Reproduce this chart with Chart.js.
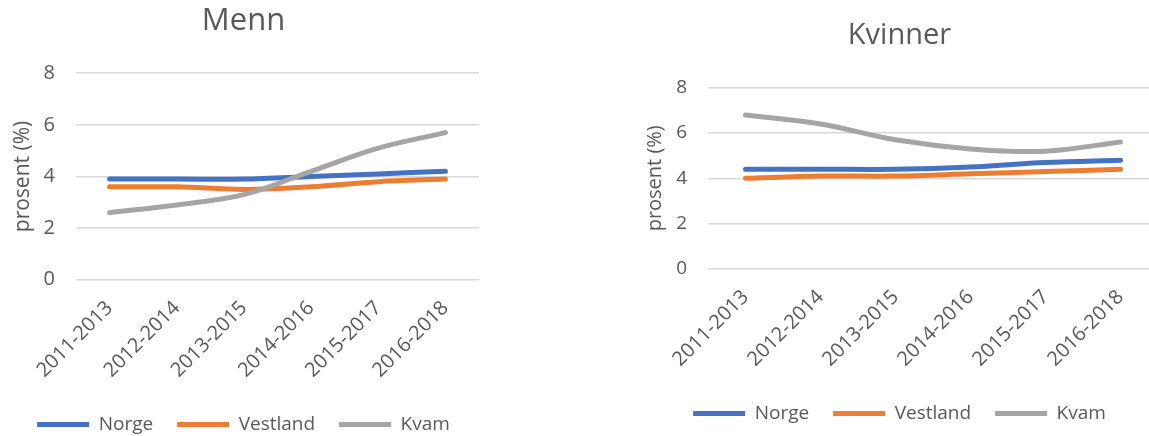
<!DOCTYPE html>
<html>
<head>
<meta charset="utf-8">
<script src="https://cdn.jsdelivr.net/npm/chart.js@4/dist/chart.umd.min.js"></script>
<style>
  html, body { margin: 0; padding: 0; background: #fff; overflow: hidden; width: 1149px; height: 436px; }
  .box { position: absolute; top: 0; height: 436px; }
  #b1 { left: 0; width: 486px; }
  #b2 { left: 633px; width: 528px; }
</style>
</head>
<body>
<div class="box" id="b1"><canvas id="c1"></canvas></div>
<div class="box" id="b2"><canvas id="c2"></canvas></div>
<script>
const categories = ['2011-2013', '2012-2014', '2013-2015', '2014-2016', '2015-2017', '2016-2018'];
const seriesNames = ['Norge', 'Vestland', 'Kvam'];
const mennNorge    = [3.9, 3.9, 3.9, 4.0, 4.1, 4.2];
const mennVestland = [3.6, 3.6, 3.5, 3.6, 3.8, 3.9];
const mennKvam     = [2.6, 2.9, 3.3, 4.2, 5.1, 5.7];
const kvinnerNorge    = [4.4, 4.4, 4.4, 4.5, 4.7, 4.8];
const kvinnerVestland = [4.0, 4.1, 4.1, 4.2, 4.3, 4.4];
const kvinnerKvam     = [6.8, 6.4, 5.7, 5.3, 5.2, 5.6];
const yTicks = [0, 2, 4, 6, 8];
const yTitle = 'prosent (%)';

const colors = ['#4472C4', '#ED7D31', '#A5A5A5'];
const textColor = '#595959';
const FONT = "'Open Sans', sans-serif";

function makeChart(id, title, values, s) {
  const datasets = values.map((v, i) => ({
    label: seriesNames[i],
    data: v,
    borderColor: colors[i],
    backgroundColor: colors[i],
    borderWidth: 5,
    borderCapStyle: 'round',
    borderJoinStyle: 'round',
    pointRadius: 0,
    pointHoverRadius: 0,
    tension: 0.35,
    fill: false,
    order: 3 - i
  }));
  return new Chart(document.getElementById(id), {
    type: 'line',
    data: { labels: categories, datasets },
    options: {
      responsive: true,
      maintainAspectRatio: false,
      animation: false,
      devicePixelRatio: 1,
      layout: { padding: s.layout },
      plugins: {
        title: {
          display: true, text: title, color: textColor,
          font: { family: FONT, size: s.titleSize, weight: 'normal' },
          padding: s.titlePad
        },
        legend: {
          position: 'bottom',
          labels: {
            color: textColor,
            font: { family: FONT, size: 19 },
            usePointStyle: true,
            pointStyle: 'line',
            pointStyleWidth: 52,
            boxHeight: 5,
            padding: 24,
            sort: (a, b) => a.datasetIndex - b.datasetIndex
          }
        },
        tooltip: { enabled: false }
      },
      scales: {
        x: {
          offset: true,
          grid: { display: false },
          border: { display: false },
          afterFit: (axis) => { axis.paddingLeft = 0; axis.paddingRight = 0; },
          ticks: {
            color: textColor, font: { family: FONT, size: 20 },
            minRotation: 45, maxRotation: 45, padding: s.xPad, autoSkip: false
          }
        },
        y: {
          min: 0, max: 8,
          afterBuildTicks: (axis) => { axis.ticks = yTicks.map(v => ({ value: v })); },
          afterFit: (axis) => { axis.width = s.yWidth; },
          grid: { color: '#D9D9D9', lineWidth: 1.5, drawTicks: false },
          border: { display: false },
          ticks: { color: textColor, font: { family: FONT, size: s.tickSize }, padding: 21 },
          title: {
            display: true, text: yTitle, color: textColor,
            font: { family: FONT, size: s.yTitleSize },
            padding: { top: 2, bottom: 8 }
          }
        }
      }
    }
  });
}

makeChart('c1', 'Menn', [mennNorge, mennVestland, mennKvam], {
  layout: { left: 8, right: 7, top: 0, bottom: -8 },
  titleSize: 31, titlePad: { top: 3, bottom: 33 },
  tickSize: 20, yTitleSize: 21, xPad: 8.5, yWidth: 68
});
makeChart('c2', 'Kvinner', [kvinnerNorge, kvinnerVestland, kvinnerKvam], {
  layout: { left: 8, right: 3, top: 0, bottom: 3 },
  titleSize: 29, titlePad: { top: 18, bottom: 35 },
  tickSize: 19, yTitleSize: 20, xPad: 8.5, yWidth: 67
});
</script>
</body>
</html>
